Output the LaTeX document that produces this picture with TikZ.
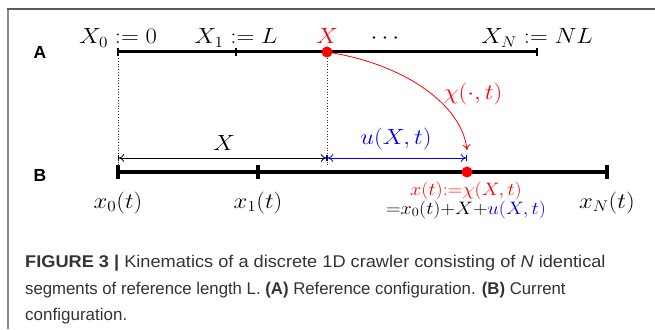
\RequirePackage{fix-cm}
\documentclass[tikz,border=0pt]{standalone}
\usepackage{graphicx}
\usepackage{fontspec}
\newfontfamily\capfont{Liberation Sans}
\usetikzlibrary{arrows.meta}
\definecolor{frametop}{HTML}{5A5A5A}
\definecolor{frameleft}{HTML}{8A8A8A}
\definecolor{captxt}{HTML}{333333}
\definecolor{myred}{HTML}{FF0000}
\definecolor{myblue}{HTML}{0000FF}
\newcommand{\sx}[1]{\scalebox{1.12}[1]{#1}}
\begin{document}
\begin{tikzpicture}[x=1pt,y=-1pt,
  big/.style={font=\fontsize{22}{26}\selectfont, inner sep=0pt, anchor=base},
  small/.style={font=\fontsize{18}{21}\selectfont, inner sep=0pt, anchor=base},
  panel/.style={font=\capfont\bfseries\fontsize{17.5}{20}\selectfont, inner sep=0pt},
  captext/.style={font=\capfont\fontsize{17}{20}\selectfont, text=captxt, inner sep=0pt, anchor=base west},
  rod/.style={line width=3pt},
  rodB/.style={line width=4pt},
  tickA/.style={line width=2pt},
  tickB/.style={line width=3.5pt},
  dot/.style={circle, fill=myred, inner sep=0pt, minimum size=11pt},
  guide/.style={dotted, line width=0.8pt, black!80},
  dimarr/.style={line width=0.8pt, >={To[length=5.5pt,width=8pt]}, |<->|},
]
\useasboundingbox (0,0) rectangle (655,329);
% frame
\draw[frameleft, line width=2pt] (8,329) -- (8,9);
\draw[frametop, line width=2pt] (7,9) -- (655,9);

% panel labels
\node[panel] (pa) at (40,52) {A};
\node[panel] (pb) at (40,175) {B};

% ---- configuration A
\coordinate (a0) at (118,52);
\coordinate (a1) at (236,52);
\coordinate (aN) at (537,52);
\draw[rod] (a0) -- (aN);
\draw[tickA] (118,48) -- (118,56);
\draw[tickA] (236,48) -- (236,56);
\draw[tickA] (537,48) -- (537,56);
\node[dot] (pA) at (327,52) {};

\node[big] (lX0) at (118,44) {\sx{$X_0:=0$}};
\node[big] (lX1) at (236,44) {\sx{$X_1:=L$}};
\node[big, text=myred] (lX) at (327,44) {\sx{$X$}};
\node[big] (ldots) at (385,44) {\sx{$\cdots$}};
\node[big] (lXN) at (537,44) {\sx{$X_N:=NL$}};

% dotted guides
\coordinate (g0t) at (118,58);
\coordinate (g0b) at (118,165);
\coordinate (gXt) at (327,58);
\coordinate (gXb) at (327,167);
\draw[guide] (g0t) -- (g0b);
\draw[guide] (gXt) -- (gXb);

% ---- configuration B
\coordinate (b0) at (118,172);
\coordinate (b1) at (258,172);
\coordinate (bN) at (607,172);
\draw[rodB] (b0) -- (bN);
\draw[tickB] (118,165) -- (118,179);
\draw[tickB] (258,165) -- (258,179);
\draw[tickB] (607,165) -- (607,179);
\node[dot] (pB) at (467,172) {};

% dimension arrows
\coordinate (d0) at (118,158);
\coordinate (dX) at (327,158);
\coordinate (dU) at (467,158);
\draw[dimarr] (d0) -- (dX);
\draw[dimarr, myblue] (dX) -- (dU);
\node[big] (lXd) at (224,150) {\sx{$X$}};
\node[big, text=myblue] (lU) at (396,144) {\sx{$u(X,t)$}};

% mapping arrow
\coordinate (cEnd) at (467,150);
\draw[myred, line width=0.8pt, -{To[length=5.5pt,width=8pt]}] (pA.center) .. controls (405,64) and (462,105) .. (cEnd);
\node[big, text=myred] (lchi) at (473,99) {\sx{$\chi(\cdot,t)$}};

% labels below B
\node[big] (lx0) at (118,208) {\sx{$x_0(t)$}};
\node[big] (lx1) at (258,208) {\sx{$x_1(t)$}};
\node[big] (lxN) at (607,208) {\sx{$x_N(t)$}};
\node[small, text=myred] (lxt) at (466,195) {\sx{$x(t){:=}\chi(X,t)$}};
\node[small] (lxt2) at (466,214) {\sx{${=}x_0(t){+}X{+}\textcolor{myblue}{u(X,t)}$}};

% caption
\node[captext] (cap1) at (25,267) {\scalebox{1.07}[1]{\textbf{FIGURE 3 \textbar} Kinematics of a discrete 1D crawler consisting of \textit{N} identical}};
\node[captext] (cap2) at (25,294) {\scalebox{0.985}[1]{segments of reference length L. \textbf{(A)} Reference configuration. \textbf{(B)} Current}};
\node[captext] (cap3) at (25,320) {configuration.};
\end{tikzpicture}
\end{document}
